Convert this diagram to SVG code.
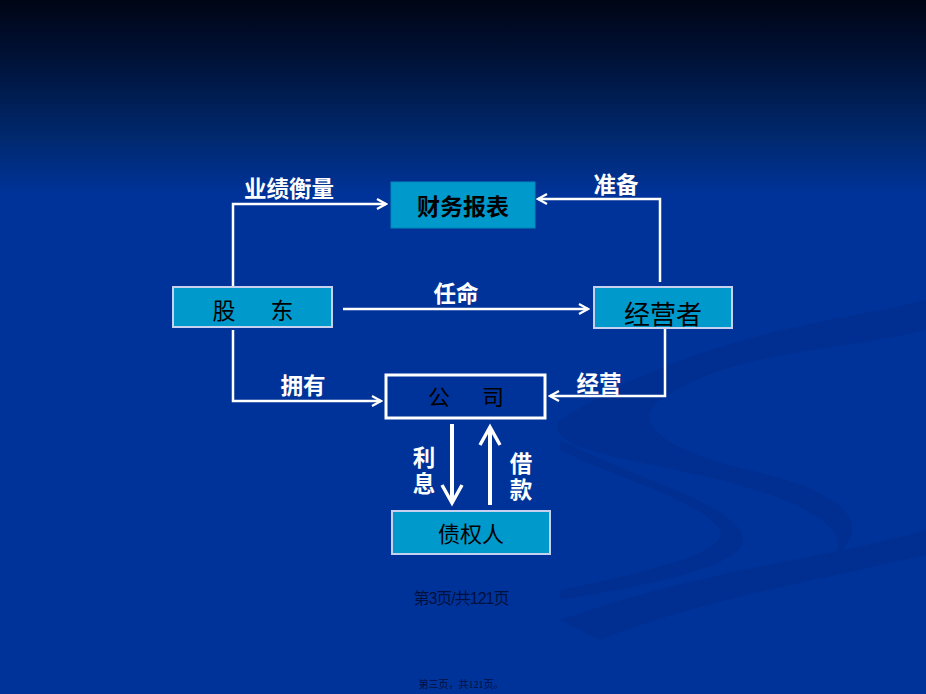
<svg xmlns="http://www.w3.org/2000/svg" width="926" height="694" viewBox="0 0 926 694">
<style>
.box{fill:#0099cc;stroke:#c8d0f0;stroke-width:2}
.nt{font-family:"Liberation Sans","Noto Sans CJK SC",sans-serif;fill:#000000;text-anchor:middle}
.lb{font-family:"Liberation Sans","Noto Sans CJK SC",sans-serif;fill:#ffffff;font-weight:bold;font-size:22.5px;text-anchor:middle}
.ln{fill:none;stroke:#ffffff;stroke-width:2.5}
.lt{fill:none;stroke:#ffffff;stroke-width:4}
</style>
<defs>
<linearGradient id="bg" x1="0" y1="0" x2="0" y2="1">
<stop offset="0" stop-color="#000515"/>
<stop offset="0.08" stop-color="#001135"/>
<stop offset="0.2" stop-color="#00296f"/>
<stop offset="0.28" stop-color="#003399"/>
<stop offset="1" stop-color="#003399"/>
</linearGradient>
<marker id="ah" markerWidth="12" markerHeight="12" refX="10" refY="6" orient="auto" markerUnits="userSpaceOnUse">
<path d="M1,1 L10,6 L1,11" fill="none" stroke="#ffffff" stroke-width="2.2"/>
</marker>
<marker id="ahb" markerWidth="24" markerHeight="24" refX="20" refY="12" orient="auto" markerUnits="userSpaceOnUse">
<path d="M2,2 L20,12 L2,22" fill="none" stroke="#ffffff" stroke-width="3.5"/>
</marker>
</defs>
<rect x="0" y="0" width="926" height="694" fill="url(#bg)"/>
<g id="background-swooshes" opacity="0.18">
<path d="M560,420 C700,330 850,320 926,300 L926,330 C850,350 730,350 660,400 C620,430 700,460 750,470 C880,500 860,540 830,560 C860,530 800,500 720,480 C640,460 540,450 560,420 Z" fill="#001f70"/>
<path d="M560,620 C700,570 820,560 926,530 L926,555 C820,580 700,600 600,640 Z" fill="#001f70"/>
<path d="M560,440 C640,480 720,500 740,530 C760,560 680,580 560,600 L560,590 C660,570 730,550 720,530 C700,500 620,480 560,450 Z" fill="#001f70"/>
</g>
<g id="connectors">
<polyline class="ln" points="233,286 233,204 386,204" marker-end="url(#ah)"/>
<polyline class="ln" points="660,282 660,199 538,199" marker-end="url(#ah)"/>
<line class="ln" x1="343" y1="309" x2="588" y2="309" marker-end="url(#ah)"/>
<polyline class="ln" points="233,330 233,401 381,401" marker-end="url(#ah)"/>
<polyline class="ln" points="665,328 665,396 550,396" marker-end="url(#ah)"/>
<line class="lt" x1="452" y1="424" x2="452" y2="503" marker-end="url(#ahb)"/>
<line class="lt" x1="490" y1="505" x2="490" y2="427" marker-end="url(#ahb)"/>
<text class="lb" x="289" y="197">业绩衡量</text>
<text class="lb" x="616" y="193">准备</text>
<text class="lb" x="456" y="302">任命</text>
<text class="lb" x="303" y="394">拥有</text>
<text class="lb" x="599" y="392">经营</text>
<text class="lb" x="424" y="466">利</text>
<text class="lb" x="424" y="492">息</text>
<text class="lb" x="521" y="472">借</text>
<text class="lb" x="521" y="498">款</text>
</g>
<g id="node-caiwubaobiao">
<rect x="391" y="182" width="144" height="46" fill="#0099cc" stroke="#0088bb" stroke-width="1"/>
<text class="nt" x="463" y="215" font-size="23" font-weight="bold">财务报表</text>
</g>
<g id="node-gudong">
<rect class="box" x="173" y="287" width="159" height="40"/>
<text class="nt" x="252" y="319" font-size="23"><tspan x="224">股</tspan><tspan x="282">东</tspan></text>
</g>
<g id="node-jingyingzhe">
<rect class="box" x="594" y="287" width="138" height="41"/>
<text class="nt" x="663" y="324" font-size="26">经营者</text>
</g>
<g id="node-gongsi">
<rect x="386" y="375" width="159" height="43" fill="none" stroke="#ffffff" stroke-width="3"/>
<text class="nt" x="466" y="405" font-size="22"><tspan x="439">公</tspan><tspan x="493">司</tspan></text>
</g>
<g id="node-zhaiquanren">
<rect class="box" x="392" y="511" width="158" height="43"/>
<text class="nt" x="471" y="542" font-size="22">债权人</text>
</g>
<text x="461" y="604" font-family="'Liberation Sans','Noto Sans CJK SC',sans-serif" font-size="16" fill="#001040" text-anchor="middle" letter-spacing="-1">第3页/共121页</text>
<text x="461" y="688" font-family="'Liberation Serif','Noto Sans CJK SC',serif" font-size="10" fill="#001040" text-anchor="middle">第三页，共121页。</text>
</svg>
